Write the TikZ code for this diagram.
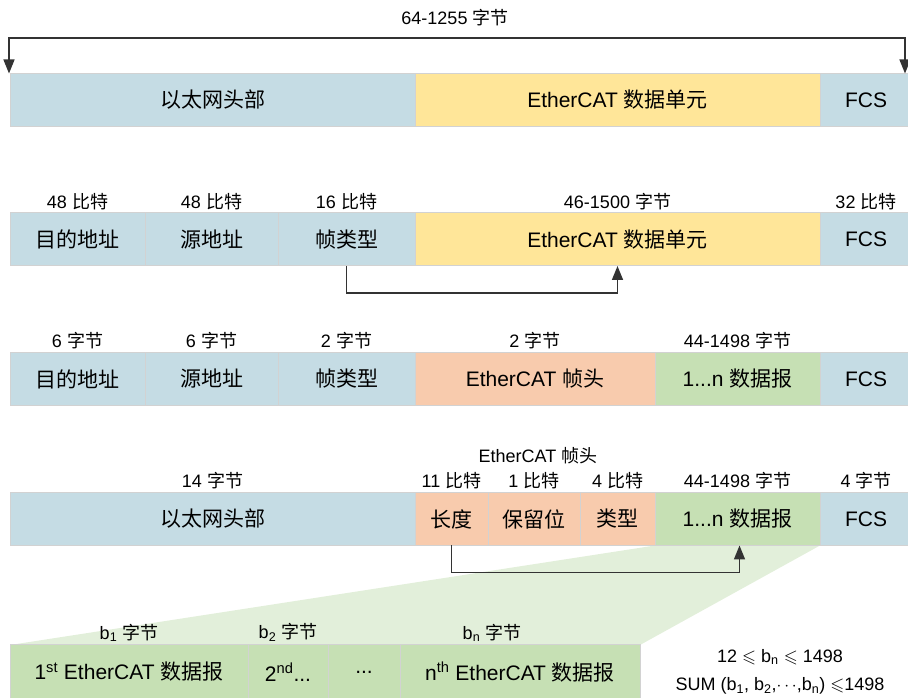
\documentclass[tikz,border=0pt]{standalone}
\usepackage{amssymb}
\usepackage{fontspec}
\setmainfont{Liberation Sans}
\newfontfamily\zhfont{Noto Sans CJK SC}
\newcommand{\zh}[1]{{\zhfont #1}}
\usetikzlibrary{positioning,arrows.meta,backgrounds}
\definecolor{ethblue}{HTML}{C5DCE4}
\definecolor{ecatyellow}{HTML}{FFE699}
\definecolor{hdrsalmon}{HTML}{F8CBAD}
\definecolor{dgreen}{HTML}{C6E0B4}
\definecolor{trapgreen}{HTML}{E2EFDA}
\definecolor{segline}{HTML}{D2D2D2}
\definecolor{arrowgray}{HTML}{333333}

\begin{document}
\begin{tikzpicture}[
  x=1pt, y=1pt,
  font=\fontsize{21}{24}\selectfont,
  >={Triangle[length=14pt, width=11pt]},
  seg/.style={
    draw=segline, line width=1pt,
    minimum height=53pt, inner sep=0pt, outer sep=0pt,
    anchor=west, align=center
  },
  bseg/.style={seg, fill=ethblue},
  yseg/.style={seg, fill=ecatyellow},
  sseg/.style={seg, fill=hdrsalmon},
  gseg/.style={seg, fill=dgreen},
  lbl/.style={font=\fontsize{18}{20}\selectfont, inner sep=2pt},
  flow/.style={->, line width=1.5pt, draw=arrowgray},
]
\clip (0,0) rectangle (908,698);

% Row 1: whole frame
\node[bseg, minimum width=405pt] (eth1) at (10,598) {\zh{以太网头部}};
\node[yseg, minimum width=405pt, right=0pt of eth1] (ecat1) {EtherCAT \zh{数据单元}};
\node[bseg, minimum width=92pt, right=0pt of ecat1] (fcs1) {FCS};
\node[lbl] (len1) at (455,680) {64-1255 \zh{字节}};
\coordinate (topl) at (9,660);
\coordinate (topr) at (905,660);
\draw[flow, <->]
  (topl |- eth1.north) -- (topl) -- (topr) -- (topr |- eth1.north);

% Row 2: ethernet fields in bits
\node[bseg, minimum width=135pt] (dst2) at (10,458.5) {\zh{目的地址}};
\node[bseg, minimum width=133pt, right=0pt of dst2] (src2) {\zh{源地址}};
\node[bseg, minimum width=137pt, right=0pt of src2] (type2) {\zh{帧类型}};
\node[yseg, minimum width=405pt, right=0pt of type2] (ecat2) {EtherCAT \zh{数据单元}};
\node[bseg, minimum width=92pt, right=0pt of ecat2] (fcs2) {FCS};
\node[lbl, above=1pt of dst2] {48 \zh{比特}};
\node[lbl, above=1pt of src2] {48 \zh{比特}};
\node[lbl, above=1pt of type2] {16 \zh{比特}};
\node[lbl, above=1pt of ecat2] {46-1500 \zh{字节}};
\node[lbl, above=1pt of fcs2] {32 \zh{比特}};
\draw[flow] (type2.south) -- ++(0,-27) -| (ecat2.south);

% Row 3: same in bytes
\node[bseg, minimum width=135pt] (dst3) at (10,319) {\zh{目的地址}};
\node[bseg, minimum width=133pt, right=0pt of dst3] (src3) {\zh{源地址}};
\node[bseg, minimum width=137pt, right=0pt of src3] (type3) {\zh{帧类型}};
\node[sseg, minimum width=240pt, right=0pt of type3] (hdr3) {EtherCAT \zh{帧头}};
\node[gseg, minimum width=165pt, right=0pt of hdr3] (dg3) {1...n \zh{数据报}};
\node[bseg, minimum width=92pt, right=0pt of dg3] (fcs3) {FCS};
\node[lbl, above=1pt of dst3] {6 \zh{字节}};
\node[lbl, above=1pt of src3] {6 \zh{字节}};
\node[lbl, above=1pt of type3] {2 \zh{字节}};
\node[lbl, above=1pt of hdr3] {2 \zh{字节}};
\node[lbl, above=1pt of dg3] {44-1498 \zh{字节}};

% Row 4: EtherCAT header split up
\node[bseg, minimum width=405pt] (eth4) at (10,179) {\zh{以太网头部}};
\node[sseg, minimum width=73pt, right=0pt of eth4] (len4) {\zh{长度}};
\node[sseg, minimum width=92pt, right=0pt of len4] (res4) {\zh{保留位}};
\node[sseg, minimum width=75pt, right=0pt of res4] (typ4) {\zh{类型}};
\node[gseg, minimum width=165pt, right=0pt of typ4] (dg4) {1...n \zh{数据报}};
\node[bseg, minimum width=92pt, right=0pt of dg4] (fcs4) {FCS};
\node[lbl, above=1pt of eth4] {14 \zh{字节}};
\node[lbl, above=1pt of len4] {11 \zh{比特}};
\node[lbl, above=1pt of res4] (bit4) {1 \zh{比特}};
\node[lbl, above=1pt of typ4] {4 \zh{比特}};
\node[lbl, above=1pt of dg4] {44-1498 \zh{字节}};
\node[lbl, above=1pt of fcs4] {4 \zh{字节}};
\node[lbl, above=4pt of bit4, xshift=4pt] {EtherCAT \zh{帧头}};
\draw[flow] (len4.south) -- ++(0,-27) -| ([xshift=2pt]dg4.south);

% Row 5: datagrams
\node[gseg, minimum width=238pt, minimum height=54pt] (dg51) at (10,26) {1\textsuperscript{st} EtherCAT \zh{数据报}};
\node[gseg, minimum width=80pt, minimum height=54pt, right=0pt of dg51] (dg52) {2\textsuperscript{nd}...};
\node[gseg, minimum width=72pt, minimum height=54pt, right=0pt of dg52] (dgdots) {...};
\node[gseg, minimum width=240pt, minimum height=54pt, right=0pt of dgdots] (dg5n) {n\textsuperscript{th} EtherCAT \zh{数据报}};
\node[lbl, above=1pt of dg51] {b\textsubscript{1} \zh{字节}};
\node[lbl, above=1pt of dg52] {b\textsubscript{2} \zh{字节}};
\node[lbl, above=1pt of dg5n, xshift=-28pt] {b\textsubscript{n} \zh{字节}};
\node[lbl] (rng) at (780,41) {12 $\leqslant$ b\textsubscript{n} $\leqslant$ 1498};
\node[lbl] (sum) at (780,12) {SUM (b\textsubscript{1}, b\textsubscript{2},$\cdots$,b\textsubscript{n}) $\leqslant$1498};

% zoom wedge behind the datagram row
\begin{scope}[on background layer]
  \fill[trapgreen] (dg4.south west) -- (dg4.south east) -- (dg5n.north east) -- (dg51.north west) -- cycle;
\end{scope}

\end{tikzpicture}
\end{document}
